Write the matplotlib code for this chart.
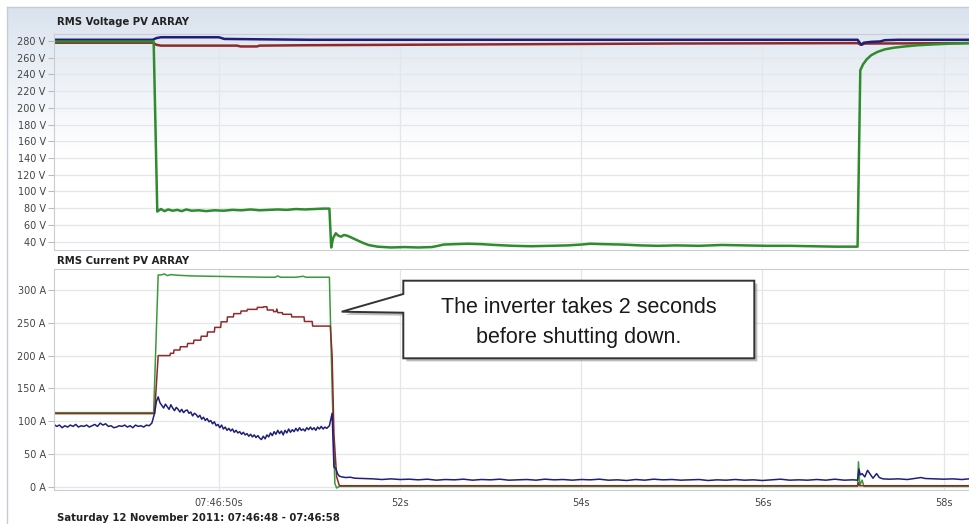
import numpy as np
import matplotlib
matplotlib.use("Agg")
import matplotlib.pyplot as plt
from matplotlib.patches import Polygon
from matplotlib.lines import Line2D
import matplotlib.patheffects as pe

# ---------------- data (seconds after 07:46:48 is encoded as 48.x .. 58.x) -------------
voltage_blue = [(48.18, 281.5), (49.27, 281.5), (49.31, 283.5), (49.36, 284.5), (50.00, 284.5),
                (50.06, 282.5), (50.50, 282.0), (51.00, 281.5), (52.00, 281.5), (54.00, 281.5),
                (56.00, 281.5), (57.05, 281.5), (57.09, 275.5), (57.12, 278.0), (57.20, 279.0),
                (57.30, 279.5), (57.35, 281.0), (57.50, 281.5), (58.28, 281.5)]

voltage_red = [(48.18, 278.0), (49.27, 278.0), (49.31, 275.5), (49.36, 274.5), (50.20, 274.5),
               (50.24, 273.5), (50.42, 273.5), (50.45, 274.5), (51.00, 275.0), (53.00, 276.0),
               (55.00, 277.0), (57.05, 277.5), (57.09, 275.5), (57.13, 277.0), (58.28, 277.5)]

voltage_green = [(48.18, 279.5), (49.28, 279.5), (49.32, 76), (49.36, 79), (49.40, 76.5),
                 (49.44, 78.5), (49.49, 77), (49.54, 78), (49.59, 76.5), (49.64, 78.5),
                 (49.70, 77), (49.78, 77.5), (49.86, 76.5), (49.95, 77.5), (50.05, 77),
                 (50.15, 78), (50.25, 77.5), (50.35, 78.5), (50.45, 77.5), (50.55, 78),
                 (50.65, 78.5), (50.75, 78), (50.85, 79), (50.95, 78.5), (51.05, 79),
                 (51.15, 79.5), (51.22, 79.5), (51.24, 33), (51.26, 44), (51.29, 50),
                 (51.32, 47), (51.35, 46), (51.38, 48), (51.42, 47), (51.46, 45), (51.52, 42),
                 (51.58, 39), (51.65, 36), (51.75, 34), (51.90, 33), (52.05, 33.5), (52.20, 33),
                 (52.35, 33.5), (52.42, 35), (52.48, 36.5), (52.60, 37), (52.75, 37.5),
                 (52.90, 37), (53.05, 36), (53.25, 35), (53.45, 34.5), (53.65, 35), (53.85, 35.5),
                 (54.00, 36.5), (54.10, 37.5), (54.25, 37), (54.45, 36.5), (54.65, 35.5),
                 (54.85, 35), (55.05, 35.5), (55.30, 35), (55.55, 36), (55.80, 35.5), (56.05, 35),
                 (56.30, 35), (56.55, 34.5), (56.80, 34), (57.05, 34), (57.08, 245), (57.11, 252),
                 (57.15, 258), (57.20, 263), (57.27, 267), (57.35, 270), (57.45, 272),
                 (57.57, 273.5), (57.72, 275), (57.90, 276), (58.10, 277), (58.28, 277.5)]

current_green = [(48.18, 113), (49.28, 113), (49.33, 323), (49.36, 323), (49.40, 324.5),
                 (49.43, 322), (49.47, 323.5), (49.55, 322.5), (49.70, 321.5), (49.90, 321),
                 (50.10, 320.5), (50.30, 320), (50.50, 319.5), (50.62, 319.5), (50.65, 321.5),
                 (50.68, 319.5), (50.85, 319.5), (50.93, 321), (50.96, 319.5), (51.22, 319.5),
                 (51.25, 150), (51.28, 5), (51.30, -2), (51.33, 0.5), (57.05, 0.5), (57.06, 38),
                 (57.075, 2), (57.10, 10), (57.12, 0.5), (58.28, 0.5)]

current_red = [(48.18, 111.5), (49.29, 111.5), (49.33, 200), (49.46, 200), (49.465, 203.5),
               (49.50, 203.5), (49.505, 208.5), (49.57, 208.5), (49.575, 213.5), (49.65, 213.5),
               (49.655, 218.5), (49.72, 218.5), (49.725, 223.5), (49.80, 223.5), (49.805, 229.5),
               (49.87, 229.5), (49.875, 236), (49.95, 236), (49.955, 243), (50.02, 243),
               (50.025, 251.5), (50.09, 251.5), (50.095, 259), (50.16, 259), (50.165, 264),
               (50.24, 264), (50.245, 268), (50.31, 268), (50.315, 270.5), (50.42, 270.5),
               (50.425, 273.5), (50.49, 273.5), (50.495, 274.5), (50.53, 274.5), (50.535, 269.5),
               (50.60, 269.5), (50.605, 267), (50.63, 267), (50.64, 271), (50.65, 265.5),
               (50.70, 265.5), (50.705, 263), (50.80, 263), (50.805, 259), (50.94, 259),
               (50.945, 252), (51.03, 252), (51.035, 245), (51.23, 245), (51.25, 200),
               (51.27, 80), (51.30, 15), (51.33, 1.5), (57.05, 1.5), (57.06, 6), (57.07, 1.5),
               (58.28, 1.5)]

current_blue = [(48.18, 95), (48.21, 92), (48.24, 94), (48.27, 90), (48.30, 93), (48.33, 91),
                (48.36, 94), (48.39, 92), (48.42, 95), (48.45, 91), (48.48, 93), (48.51, 92),
                (48.54, 94), (48.57, 91), (48.60, 93), (48.63, 95), (48.66, 92), (48.69, 97),
                (48.72, 94), (48.75, 96), (48.78, 92), (48.81, 93), (48.84, 90), (48.87, 91),
                (48.90, 93), (48.93, 92), (48.96, 94), (48.99, 91), (49.02, 93), (49.05, 90),
                (49.08, 94), (49.11, 92), (49.14, 93), (49.17, 91), (49.20, 94), (49.23, 93),
                (49.26, 97), (49.29, 112), (49.31, 130), (49.33, 137), (49.35, 128), (49.37, 124),
                (49.39, 120), (49.41, 126), (49.43, 122), (49.45, 118), (49.47, 125), (49.49, 120),
                (49.51, 116), (49.53, 121), (49.55, 118), (49.57, 114), (49.59, 118), (49.61, 113),
                (49.63, 116), (49.65, 117), (49.67, 112), (49.69, 114), (49.71, 108), (49.73, 112),
                (49.75, 110), (49.77, 106), (49.79, 109), (49.81, 103), (49.83, 106), (49.85, 101),
                (49.87, 104), (49.89, 99), (49.91, 101), (49.93, 96), (49.95, 99), (49.97, 93),
                (49.99, 95), (50.01, 90), (50.03, 94), (50.05, 88), (50.07, 91), (50.09, 86),
                (50.11, 89), (50.13, 85), (50.15, 88), (50.17, 83), (50.19, 86), (50.21, 82),
                (50.23, 84), (50.25, 80), (50.27, 83), (50.29, 79), (50.31, 81), (50.33, 77),
                (50.35, 80), (50.37, 76), (50.39, 79), (50.41, 75), (50.43, 78), (50.45, 74),
                (50.47, 72), (50.49, 77), (50.51, 73), (50.53, 79), (50.55, 76), (50.57, 82),
                (50.59, 78), (50.61, 84), (50.63, 80), (50.65, 86), (50.67, 81), (50.69, 85),
                (50.71, 79), (50.73, 86), (50.75, 82), (50.77, 88), (50.79, 83), (50.81, 87),
                (50.83, 84), (50.85, 89), (50.87, 85), (50.89, 90), (50.91, 86), (50.93, 88),
                (50.95, 85), (50.97, 90), (50.99, 87), (51.01, 91), (51.03, 87), (51.05, 90),
                (51.07, 86), (51.09, 91), (51.11, 88), (51.13, 92), (51.15, 88), (51.17, 91),
                (51.19, 89), (51.22, 93), (51.25, 112), (51.27, 30), (51.29, 28), (51.31, 20),
                (51.33, 16), (51.36, 15), (51.40, 14), (51.45, 14.5), (51.50, 13), (51.60, 12.5),
                (51.70, 12), (51.80, 11), (51.90, 12), (52.00, 11), (52.10, 11.5), (52.20, 10.5),
                (52.30, 11.5), (52.40, 10), (52.50, 11), (52.60, 10.5), (52.70, 11.5), (52.80, 10),
                (52.90, 11), (53.00, 10.5), (53.10, 11.5), (53.20, 10), (53.30, 10.5), (53.40, 11),
                (53.50, 10), (53.60, 11.5), (53.70, 10.5), (53.80, 11), (53.90, 10), (54.00, 11),
                (54.10, 10.5), (54.20, 11.5), (54.30, 10), (54.40, 10.5), (54.50, 9.5),
                (54.60, 11), (54.70, 10), (54.80, 11.5), (54.90, 10.5), (55.00, 11), (55.10, 10),
                (55.20, 10.5), (55.30, 11), (55.40, 9.5), (55.50, 10.5), (55.60, 10), (55.70, 11),
                (55.80, 10), (55.90, 10.5), (56.00, 9.5), (56.10, 10.5), (56.20, 11.5),
                (56.30, 10), (56.40, 10.5), (56.50, 10), (56.60, 11), (56.70, 10), (56.80, 11.5),
                (56.90, 10), (57.00, 10.5), (57.05, 10), (57.065, 27), (57.08, 18), (57.10, 20),
                (57.13, 15), (57.16, 25), (57.19, 19), (57.22, 13), (57.26, 20), (57.29, 14),
                (57.33, 12), (57.40, 11.5), (57.50, 12), (57.60, 11), (57.70, 13), (57.75, 14),
                (57.80, 12.5), (57.90, 12), (58.00, 11.5), (58.10, 12), (58.20, 11), (58.28, 12)]

x_ticks = [50, 52, 54, 56, 58]
x_tick_labels = ["07:46:50s", "52s", "54s", "56s", "58s"]
v_ticks = list(range(40, 281, 20))
a_ticks = list(range(0, 301, 50))

panel_titles = ["RMS Voltage PV ARRAY", "RMS Current PV ARRAY"]
footer = "Saturday 12 November 2011: 07:46:48 - 07:46:58"
callout_text = "The inverter takes 2 seconds\nbefore shutting down."

# ---------------- styling -------------
W, H = 969, 524
BLUE = "#1f1f7a"
RED = "#8e2a2a"
GREEN = "#2e8b2e"
GREEN_I = "#3a9a3a"
GRID = "#e4e6ea"
SPINE = "#c9ced6"
TICKC = "#444444"
XLIM = (48.18, 58.28)


def fx(px):
    return px / W


def fy(py):
    return 1 - py / H


fig = plt.figure(figsize=(W / 100, H / 100), dpi=100)
fig.patch.set_facecolor("white")

# background gradient for the top panel
bg = fig.add_axes([fx(7), fy(252), 1 - fx(7), (252 - 7) / H], zorder=0)
rows = 245
t = np.linspace(0, 1, rows)
top_col = np.array([0.85, 0.885, 0.93])
frac = np.clip(t / 0.6, 0, 1)[:, None] ** 0.9
grad = top_col * (1 - frac) + np.array([1.0, 1.0, 1.0]) * frac
bg.imshow(grad[:, None, :], aspect="auto", extent=[0, 1, 0, 1], origin="upper")
bg.set_axis_off()

# outer frame lines
fig.add_artist(Line2D([fx(7), fx(7)], [0, fy(7)], color="#c5ccd6", lw=1.0))
fig.add_artist(Line2D([fx(7), 1], [fy(7), fy(7)], color="#c5ccd6", lw=1.0))

ax1 = fig.add_axes([fx(54), fy(250), 1 - fx(54), (250 - 33.5) / H], zorder=2)
ax2 = fig.add_axes([fx(54), fy(490), 1 - fx(54), (490 - 269.3) / H], zorder=2)

for ax in (ax1, ax2):
    ax.set_facecolor("none")
    ax.set_xlim(*XLIM)
    ax.set_xticks(x_ticks)
    ax.grid(True, color=GRID, lw=0.9)
    ax.set_axisbelow(True)
    for s in ax.spines.values():
        s.set_color(SPINE)
        s.set_linewidth(0.8)
    ax.tick_params(axis="both", colors="#bbbbbb", labelcolor=TICKC, labelsize=7,
                   length=4, width=0.8, pad=2)

ax2.set_facecolor("white")

# voltage panel
ax1.set_ylim(30, 289)
ax1.set_yticks(v_ticks)
ax1.set_yticklabels([f"{v} V" for v in v_ticks])
ax1.tick_params(axis="x", labelbottom=False, length=0)
for data, col in ((voltage_red, RED), (voltage_blue, BLUE), (voltage_green, GREEN)):
    xs, ys = zip(*data)
    ax1.plot(xs, ys, color=col, lw=1.8, solid_joinstyle="round")

# current panel
ax2.set_ylim(-5, 331.6)
ax2.set_yticks(a_ticks)
ax2.set_yticklabels([f"{a} A" for a in a_ticks])
ax2.set_xticklabels(x_tick_labels)
ax2.tick_params(axis="x", length=0, pad=6)
for data, col in ((current_green, GREEN_I), (current_red, RED), (current_blue, BLUE)):
    xs, ys = zip(*data)
    ax2.plot(xs, ys, color=col, lw=1.1, solid_joinstyle="round")

# titles
fig.text(fx(57), fy(22), panel_titles[0], fontsize=7.3, fontweight="bold", color="#222222",
         va="center", ha="left")
fig.text(fx(57), fy(261), panel_titles[1], fontsize=7.3, fontweight="bold", color="#222222",
         va="center", ha="left")
fig.text(fx(57), fy(518), footer, fontsize=7.3, fontweight="bold", color="#222222",
         va="center", ha="left")

# callout (in figure-pixel positions)
box_pts = [(403.3, 280.7), (754.3, 280.7), (754.3, 358.3), (403.3, 358.3), (403.3, 312.7),
           (341.7, 311.7), (403.3, 294.0)]
poly = Polygon([(fx(x), fy(y)) for x, y in box_pts], closed=True, transform=fig.transFigure,
               facecolor="white", edgecolor="#333333", lw=1.4, zorder=5,
               path_effects=[pe.withSimplePatchShadow(offset=(2.2, -2.2), shadow_rgbFace="#888888",
                                                      alpha=0.55)])
fig.add_artist(poly)
fig.text(fx(579), fy(322.5), callout_text, fontsize=15.5, family="Liberation Sans",
         color="#1a1a1a", ha="center", va="center", linespacing=1.55, zorder=6)

fig.savefig("out.png", dpi=100)
